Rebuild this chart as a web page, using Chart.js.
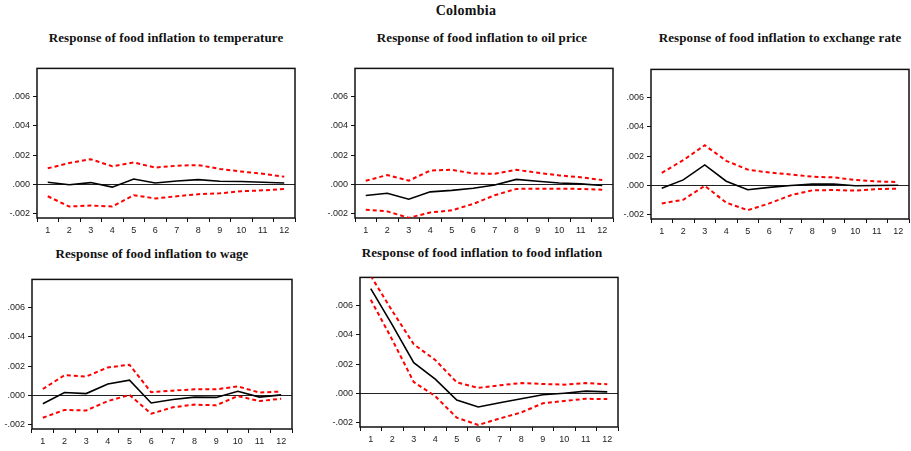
<!DOCTYPE html>
<html>
<head>
<meta charset="utf-8">
<script src="https://cdn.jsdelivr.net/npm/chart.js@4.4.1/dist/chart.umd.min.js"></script>
<style>
  html, body { margin: 0; padding: 0; width: 911px; height: 451px; overflow: hidden; background: #fff; }
  .t { position: absolute; font-family: "Liberation Serif", "Times New Roman", serif; font-weight: bold; color: #111; white-space: nowrap; transform: translateX(-50%); }
  .main { font-size: 14px; letter-spacing: 0.3px; }
  .sub { font-size: 13px; letter-spacing: 0.1px; }
  canvas { position: absolute; }
</style>
</head>
<body>
<div class="t main" style="left:466px; top:3px;">Colombia</div>
<div class="t sub" style="left:166px; top:30px;">Response of food inflation to temperature</div>
<div class="t sub" style="left:482px; top:30px;">Response of food inflation to oil price</div>
<div class="t sub" style="left:780px; top:30px;">Response of food inflation to exchange rate</div>
<div class="t sub" style="left:152px; top:246px;">Response of food inflation to wage</div>
<div class="t sub" style="left:482px; top:245px;">Response of food inflation to food inflation</div>

<canvas id="c1"></canvas>
<canvas id="c2"></canvas>
<canvas id="c3"></canvas>
<canvas id="c4"></canvas>
<canvas id="c5"></canvas>

<script>
// ---------------- DATA ----------------
const periods = ['1','2','3','4','5','6','7','8','9','10','11','12'];
const yTickValues = [-0.002, 0.000, 0.002, 0.004, 0.006];

const tempResp  = [0.00015, -0.00002, 0.00013, -0.00018, 0.00037, 0.00010, 0.00024, 0.00033, 0.00022, 0.00020, 0.00015, 0.00010];
const tempUpper = [0.00110, 0.00146, 0.00172, 0.00124, 0.00150, 0.00115, 0.00128, 0.00132, 0.00106, 0.00088, 0.00073, 0.00053];
const tempLower = [-0.00080, -0.00150, -0.00143, -0.00150, -0.00073, -0.00095, -0.00080, -0.00066, -0.00060, -0.00046, -0.00040, -0.00031];

const oilResp  = [-0.00075, -0.00060, -0.00100, -0.00050, -0.00040, -0.00026, -0.00003, 0.00035, 0.00022, 0.00010, 0.00004, -0.00007];
const oilUpper = [0.00026, 0.00064, 0.00026, 0.00095, 0.00100, 0.00075, 0.00073, 0.00100, 0.00080, 0.00062, 0.00049, 0.00030];
const oilLower = [-0.00172, -0.00183, -0.00227, -0.00190, -0.00176, -0.00132, -0.00073, -0.00030, -0.00029, -0.00029, -0.00030, -0.00035];

const fxResp  = [-0.00018, 0.00038, 0.00140, 0.00029, -0.00029, -0.00013, 0.00000, 0.00009, 0.00010, -0.00002, 0.00000, 0.00002];
const fxUpper = [0.00086, 0.00172, 0.00274, 0.00168, 0.00108, 0.00088, 0.00075, 0.00060, 0.00055, 0.00038, 0.00027, 0.00024];
const fxLower = [-0.00122, -0.00097, -0.00002, -0.00117, -0.00168, -0.00122, -0.00066, -0.00033, -0.00031, -0.00035, -0.00024, -0.00022];

const wageResp  = [-0.00056, 0.00020, 0.00013, 0.00078, 0.00104, -0.00051, -0.00027, -0.00011, -0.00013, 0.00029, -0.00011, 0.00004];
const wageUpper = [0.00044, 0.00138, 0.00129, 0.00191, 0.00209, 0.00022, 0.00033, 0.00042, 0.00042, 0.00062, 0.00020, 0.00027];
const wageLower = [-0.00151, -0.00098, -0.00102, -0.00038, 0.00004, -0.00124, -0.00080, -0.00062, -0.00067, -0.00004, -0.00038, -0.00022];

const foodResp  = [0.00714, 0.00467, 0.00210, 0.00098, -0.00045, -0.00092, -0.00063, -0.00036, -0.00009, 0.00002, 0.00016, 0.00011];
const foodUpper = [0.00800, 0.00562, 0.00335, 0.00228, 0.00076, 0.00038, 0.00056, 0.00071, 0.00065, 0.00060, 0.00071, 0.00063];
const foodLower = [0.00638, 0.00366, 0.00078, -0.00018, -0.00165, -0.00214, -0.00170, -0.00129, -0.00067, -0.00051, -0.00036, -0.00038];

const yMin = -0.00228;
const yMax = 0.0079;

// ---------------- RENDER ----------------
const AXW = 40, PADT = 5, PADR = 5, AXH = 25;

const frame = {
  id: 'frame',
  beforeDatasetsDraw(chart) {
    const a = chart.chartArea, ctx = chart.ctx;
    ctx.save();
    ctx.strokeStyle = '#111';
    ctx.lineWidth = 1.5;
    ctx.strokeRect(a.left, a.top, a.right - a.left, a.bottom - a.top);
    ctx.restore();
  }
};

function fmt(v) {
  const r = Math.round(v * 1000) / 1000;
  const s = (r === 0 ? 0 : r).toFixed(3);
  return s.replace('0.', '.');
}

function panel(id, left, top, right, bottom, resp, up, lo) {
  const cv = document.getElementById(id);
  const w = right - left + AXW + PADR;
  const h = bottom - top + PADT + AXH;
  cv.style.left = (left - AXW) + 'px';
  cv.style.top = (top - PADT) + 'px';
  cv.style.width = w + 'px';
  cv.style.height = h + 'px';
  cv.width = w; cv.height = h;
  const red = { borderColor: '#ff0000', borderWidth: 2, borderDash: [4, 3], pointRadius: 0, tension: 0, fill: false };
  new Chart(cv, {
    type: 'line',
    data: {
      labels: periods,
      datasets: [
        Object.assign({ data: up }, red),
        Object.assign({ data: lo }, red),
        { data: resp, borderColor: '#000', borderWidth: 1.6, pointRadius: 0, tension: 0, fill: false }
      ]
    },
    options: {
      responsive: false,
      animation: false,
      events: [],
      layout: { padding: { top: PADT, right: PADR, left: 0, bottom: 0 } },
      plugins: { legend: { display: false }, tooltip: { enabled: false }, title: { display: false } },
      scales: {
        x: {
          offset: true,
          border: { display: false },
          grid: { offset: true, drawOnChartArea: false, drawTicks: true, tickLength: 4, color: '#111', lineWidth: 1 },
          ticks: { color: '#222', font: { family: 'Liberation Sans', size: 9 }, padding: 3, maxRotation: 0, autoSkip: false },
          afterFit(s) { s.height = AXH; }
        },
        y: {
          min: yMin, max: yMax,
          border: { display: false },
          afterBuildTicks(s) { s.ticks = yTickValues.map(v => ({ value: v })); },
          grid: {
            drawTicks: true, tickLength: 4,
            color: c => (c.tick && Math.abs(c.tick.value) < 1e-9) ? '#222' : 'rgba(0,0,0,0)',
            tickColor: '#111',
            lineWidth: 1
          },
          ticks: { color: '#222', font: { family: 'Liberation Sans', size: 9 }, padding: 3, callback: v => fmt(v) },
          afterFit(s) { s.width = AXW; }
        }
      }
    },
    plugins: [frame]
  });
}

panel('c1', 37, 65, 295, 218, tempResp, tempUpper, tempLower);
panel('c2', 355, 65, 613, 218, oilResp, oilUpper, oilLower);
panel('c3', 651, 66, 909, 219, fxResp, fxUpper, fxLower);
panel('c4', 32, 276, 292, 429, wageResp, wageUpper, wageLower);
panel('c5', 360, 274, 618, 427, foodResp, foodUpper, foodLower);
</script>
</body>
</html>
